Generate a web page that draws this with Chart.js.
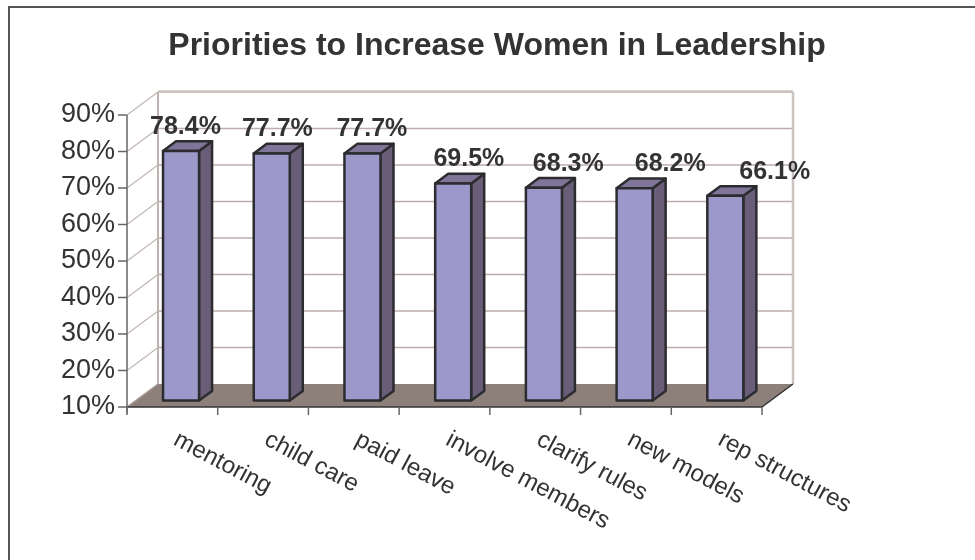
<!DOCTYPE html>
<html lang="en">
<head>
<meta charset="UTF-8">
<title>Priorities to Increase Women in Leadership</title>
<script src="https://cdn.jsdelivr.net/npm/chart.js@4.4.1/dist/chart.umd.min.js"></script>
<style>
  html, body { margin: 0; padding: 0; background: #fff; }
  #wrap { position: relative; width: 975px; height: 560px; }
</style>
</head>
<body>
<div id="wrap"><canvas id="myChart" width="975" height="560"></canvas></div>
<script>
var chartTitle = "Priorities to Increase Women in Leadership";
var categories = ["mentoring", "child care", "paid leave", "involve members", "clarify rules", "new models", "rep structures"];
var values = [78.4, 77.7, 77.7, 69.5, 68.3, 68.2, 66.1];
var yMin = 10, yMax = 90, yStep = 10;

// fake 3d: back wall is pushed by DX/DY, bars sit between FRONT and BACK depth
var DX = 31, DY = -23;
var FRONT = 0.28, BACK = 0.70;
var FONT = "'Liberation Sans', Arial, sans-serif";

function line(ctx, x1, y1, x2, y2, color, w) {
    ctx.beginPath();
    ctx.moveTo(x1, y1);
    ctx.lineTo(x2, y2);
    ctx.strokeStyle = color;
    ctx.lineWidth = w;
    ctx.stroke();
}

function poly(ctx, pts, fill) {
    ctx.beginPath();
    ctx.moveTo(pts[0][0], pts[0][1]);
    for (var i = 1; i < pts.length; i++) ctx.lineTo(pts[i][0], pts[i][1]);
    ctx.closePath();
    ctx.fillStyle = fill;
    ctx.fill();
    ctx.strokeStyle = "#2c2c30";
    ctx.lineWidth = 2.5;
    ctx.lineJoin = "round";
    ctx.stroke();
}

var box3d = {
    id: "box3d",
    beforeDraw: function (chart) {
        var ctx = chart.ctx, ca = chart.chartArea, ys = chart.scales.y;
        var L = ca.left, R = ca.right;
        var B = ys.getPixelForValue(yMin), T = ys.getPixelForValue(yMax);
        ctx.save();

        // outer frame
        ctx.strokeStyle = "#555";
        ctx.lineWidth = 2;
        ctx.strokeRect(9, 7, 1000, 1000);

        // title
        ctx.fillStyle = "#333";
        ctx.font = "bold 32px " + FONT;
        ctx.textAlign = "center";
        ctx.textBaseline = "alphabetic";
        ctx.fillText(chartTitle, 497, 55);

        // side wall diagonals and back wall grid
        for (var v = yMin + yStep; v <= yMax; v += yStep) {
            var y = ys.getPixelForValue(v);
            line(ctx, L, y, L + DX, y + DY, "#c2b6b3", 1.2);
            line(ctx, L + DX, y + DY, R + DX, y + DY, "#bcaeab", 1.5);
        }
        line(ctx, L + DX, T + DY - 0.5, R + DX, T + DY - 0.5, "#cbc3c0", 2.5);
        line(ctx, R + DX, T + DY, R + DX, B + DY, "#cbc3c0", 2.5);
        line(ctx, L + DX, T + DY, L + DX, B + DY, "#beb3b0", 2);

        // floor
        ctx.beginPath();
        ctx.moveTo(L, B);
        ctx.lineTo(R, B);
        ctx.lineTo(R + DX, B + DY);
        ctx.lineTo(L + DX, B + DY);
        ctx.closePath();
        ctx.fillStyle = "#8d7f79";
        ctx.fill();
        line(ctx, L, B, L + DX, B + DY, "#a89c98", 1.5);
        line(ctx, R, B, R + DX, B + DY, "#333", 1.5);
        line(ctx, L, B, R, B, "#333", 1.5);

        // value axis and ticks
        line(ctx, L, T, L, B + 6, "#666", 1.5);
        for (var t = yMin; t <= yMax; t += yStep) {
            var ty = ys.getPixelForValue(t);
            line(ctx, L - 9, ty, L, ty, "#666", 1.5);
        }
        // category ticks
        var w = (R - L) / categories.length;
        for (var k = 0; k <= categories.length; k++) {
            line(ctx, L + k * w, B, L + k * w, B + 8, "#666", 1.5);
        }
        ctx.restore();
    },
    beforeDatasetsDraw: function (chart) {
        var ctx = chart.ctx;
        var meta = chart.getDatasetMeta(0);
        var fx = FRONT * DX, fy = FRONT * DY;
        var ddx = (BACK - FRONT) * DX, ddy = (BACK - FRONT) * DY;
        ctx.save();
        meta.data.forEach(function (bar) {
            var p = bar.getProps(["x", "y", "base", "width"], true);
            var x0 = p.x - p.width / 2 + fx, x1 = p.x + p.width / 2 + fx;
            var yt = p.y + fy, yb = p.base + fy;
            poly(ctx, [[x1, yt], [x1 + ddx, yt + ddy], [x1 + ddx, yb + ddy], [x1, yb]], "#695e77");
            poly(ctx, [[x0, yt], [x1, yt], [x1 + ddx, yt + ddy], [x0 + ddx, yt + ddy]], "#7f7599");
            poly(ctx, [[x0, yt], [x1, yt], [x1, yb], [x0, yb]], "#9d98ca");
        });
        ctx.restore();
        return false;
    },
    afterDraw: function (chart) {
        var ctx = chart.ctx, xs = chart.scales.x, ys = chart.scales.y;
        var meta = chart.getDatasetMeta(0);
        var B = ys.getPixelForValue(yMin);
        ctx.save();

        // value labels, drifting right along the depth
        ctx.fillStyle = "#333";
        ctx.font = "bold 25px " + FONT;
        ctx.textAlign = "center";
        ctx.textBaseline = "alphabetic";
        meta.data.forEach(function (bar, i) {
            var p = bar.getProps(["x", "y"], true);
            var lx = p.x + FRONT * DX + 4.4 + 1.25 * i * i;
            ctx.fillText(values[i].toFixed(1) + "%", lx, p.y + FRONT * DY - 17);
        });

        // slanted category labels
        ctx.font = "24px " + FONT;
        ctx.textAlign = "left";
        categories.forEach(function (c, i) {
            var cx = xs.getPixelForValue(i);
            ctx.save();
            ctx.translate(cx, B + 37);
            ctx.rotate(28 * Math.PI / 180);
            ctx.fillText(c, 0, 0);
            ctx.restore();
        });
        ctx.restore();
    }
};

new Chart(document.getElementById("myChart"), {
    type: "bar",
    data: {
        labels: categories,
        datasets: [{
            data: values,
            base: yMin,
            backgroundColor: "#9d98ca",
            categoryPercentage: 1,
            barPercentage: 0.397
        }]
    },
    options: {
        responsive: false,
        animation: false,
        devicePixelRatio: 1,
        layout: { padding: { left: 0, top: 115, right: 213, bottom: 153 } },
        plugins: {
            legend: { display: false },
            tooltip: { enabled: false },
            title: { display: false }
        },
        scales: {
            x: { display: false },
            y: {
                min: yMin,
                max: yMax,
                afterFit: function (scale) { scale.width = 127; },
                grid: { display: false, drawTicks: false },
                border: { display: false },
                ticks: {
                    stepSize: yStep,
                    padding: 12,
                    color: "#333",
                    font: { family: FONT, size: 27 },
                    callback: function (v) { return v + "%"; }
                }
            }
        }
    },
    plugins: [box3d]
});
</script>
</body>
</html>
